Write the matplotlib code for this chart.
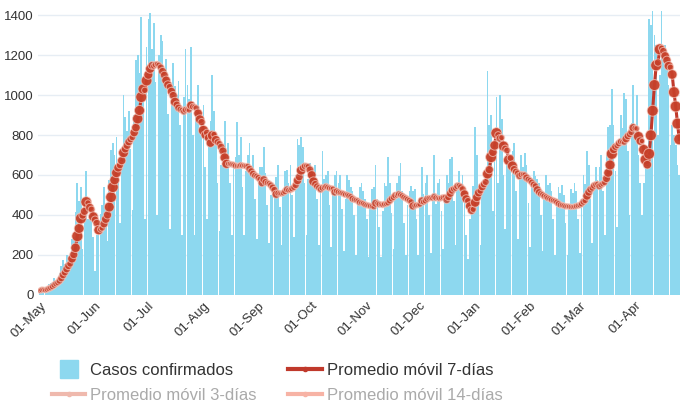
import matplotlib.pyplot as plt
import matplotlib.dates as mdates
from matplotlib.lines import Line2D
import numpy as np
import pandas as pd

# casos diarios desde el 01-May-2020 (una fila = una semana)
casos = [
    21, 29, 27, 18, 40, 54, 60,
    63, 83, 76, 48, 108, 144, 176,
    152, 201, 189, 122, 280, 290, 414,
    560, 470, 540, 230, 420, 620, 380,
    400, 400, 290, 120, 300, 380, 406,
    450, 540, 455, 270, 575, 726, 758,
    700, 790, 635, 360, 735, 1000, 890,
    820, 920, 730, 425, 900, 1175, 1200,
    1110, 1390, 1010, 380, 1240, 1380, 1410,
    1230, 1360, 1065, 400, 1200, 1300, 1270,
    1100, 1180, 905, 330, 1040, 1160, 1045,
    1000, 1070, 850, 300, 990, 1230, 1050,
    980, 1240, 800, 300, 940, 1050, 840,
    880, 950, 640, 380, 760, 870, 1100,
    920, 760, 560, 320, 650, 730, 870,
    700, 760, 560, 300, 640, 690, 865,
    700, 790, 540, 300, 620, 700, 760,
    620, 700, 480, 280, 560, 640, 640,
    740, 610, 450, 260, 500, 560, 555,
    590, 650, 440, 250, 520, 620, 626,
    560, 650, 500, 290, 600, 780, 750,
    790, 740, 560, 300, 580, 660, 570,
    560, 650, 480, 250, 520, 720, 579,
    600, 620, 450, 240, 510, 600, 620,
    560, 600, 430, 220, 480, 600, 575,
    540, 520, 400, 200, 460, 540, 560,
    520, 480, 380, 190, 440, 530, 540,
    650, 480, 340, 190, 420, 560, 545,
    690, 560, 410, 230, 490, 560, 595,
    660, 520, 360, 200, 450, 520, 545,
    520, 530, 380, 200, 480, 640, 505,
    560, 600, 400, 210, 470, 700, 455,
    560, 580, 420, 230, 480, 600, 560,
    680, 690, 470, 250, 560, 620, 510,
    600, 520, 300, 180, 380, 470, 546,
    840, 700, 460, 250, 520, 560, 625,
    1120, 850, 900, 420, 760, 990, 560,
    1000, 880, 600, 330, 700, 650, 635,
    720, 760, 520, 280, 600, 700, 641,
    710, 650, 460, 240, 540, 620, 595,
    580, 560, 400, 220, 480, 600, 548,
    560, 520, 380, 200, 440, 540, 510,
    550, 500, 360, 200, 430, 530, 510,
    560, 520, 380, 210, 480, 600, 554,
    720, 650, 480, 260, 560, 640, 575,
    640, 700, 520, 300, 700, 840, 850,
    1030, 850, 620, 340, 780, 900, 835,
    1010, 980, 720, 400, 860, 1050, 818,
    1000, 700, 560, 400, 560, 700, 640,
    1380, 1350, 1420, 1300, 1250, 800, 1100,
    1420, 1250, 1250, 1150, 1050, 750, 850,
    800, 750, 650, 600,
]
fecha_inicio = "2020-05-01"
etiquetas_y = [0, 200, 400, 600, 800, 1000, 1200, 1400]
leyenda = ["Casos confirmados", "Promedio móvil 3-días",
           "Promedio móvil 7-días", "Promedio móvil 14-días"]

fechas = pd.date_range(fecha_inicio, periods=len(casos), freq="D")
serie = pd.Series(casos, index=fechas)
media7 = serie.rolling(7, min_periods=1).mean()

# tamaño y opacidad del marcador según la variación diaria de la media
cambio = media7.diff().abs().fillna(0).values
tam = np.clip(15 + cambio * 0.9, 15, 62)
alfa = np.clip(0.55 + cambio / 60, 0.55, 0.95)
colores = [(0.78, 0.25, 0.16, a) for a in alfa]

plt.rcParams['font.family'] = ['Liberation Sans', 'DejaVu Sans']
fig = plt.figure(figsize=(6.8, 4.05), dpi=100)
ax = fig.add_axes([0.056, 0.272, 0.944, 0.703])

ax.bar(fechas, casos, width=0.95, color="#8dd8ef", linewidth=0, zorder=2)
ax.plot(fechas, media7.values, color="#c0392b", lw=2.2, zorder=3)
ax.scatter(fechas, media7.values, s=tam, c=colores,
           edgecolors=(0.97, 0.8, 0.76, 0.7), linewidths=0.7, zorder=4)

ax.set_ylim(0, 1425)
ax.set_xlim(fechas[0] - pd.Timedelta(days=1.1), fechas[0] + pd.Timedelta(days=360.4))
ax.set_yticks(etiquetas_y)
ax.grid(axis="y", color="#e6edf4", lw=1, zorder=0)
ax.grid(axis="x", visible=False)
for s in ax.spines.values():
    s.set_visible(False)

ax.xaxis.set_major_locator(mdates.MonthLocator())
ax.xaxis.set_major_formatter(mdates.DateFormatter("%d-%b"))
ax.tick_params(axis="both", length=0, labelsize=9.5, colors="#333333")
ax.tick_params(axis="y", pad=3)
for lbl in ax.get_xticklabels():
    lbl.set_rotation(45)
    lbl.set_ha("right")
    lbl.set_va("top")
    lbl.set_rotation_mode("anchor")

# leyenda inferior
manejadores = [
    Line2D([], [], ls="none", marker="s", markersize=13, color="#8dd8ef"),
    Line2D([], [], color="#efb9ad", lw=3, marker="o", markersize=3),
    Line2D([], [], color="#c0392b", lw=3, marker="o", markersize=3),
    Line2D([], [], color="#f7b3a5", lw=3, marker="o", markersize=3),
]
ley = fig.legend(manejadores, leyenda, ncol=2, loc="lower left",
                 bbox_to_anchor=(0.064, -0.016), frameon=False, fontsize=12,
                 borderpad=0, handlelength=2.0, handletextpad=0.3,
                 columnspacing=1.9, labelspacing=0.6)
for t, col in zip(ley.get_texts(), ["#333333", "#aaaaaa", "#333333", "#aaaaaa"]):
    t.set_color(col)

fig.savefig("out.png", dpi=100)
